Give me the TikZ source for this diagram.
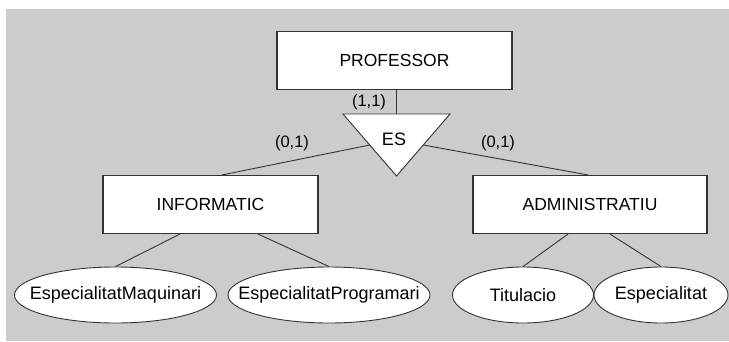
\documentclass[tikz,border=0pt]{standalone}
\usepackage{fontspec}
\setmainfont{Liberation Sans}
\usetikzlibrary{shapes.geometric,calc}
\definecolor{panel}{HTML}{CCCCCC}
\definecolor{ink}{HTML}{333333}
\newcommand{\labeltext}[1]{\makebox[0pt]{#1}}
\tikzset{
  entity/.style={draw=ink, line width=1.1pt, fill=white, minimum width=#1, minimum height=58pt, inner sep=0pt, font=\fontsize{17.5}{17.5}\selectfont},
  attrib/.style={draw=ink, line width=0.9pt, fill=white, ellipse, minimum width=#1, minimum height=56pt, inner sep=0pt, font=\fontsize{18}{18}\selectfont},
  link/.style={draw=ink, line width=0.9pt},
  card/.style={font=\fontsize{16.5}{16.5}\selectfont, inner sep=0pt},
}
\begin{document}
\begin{tikzpicture}[x=1pt,y=-1pt]
  \useasboundingbox (0,0) rectangle (729,341);
  \fill[panel] (6,9) rectangle (729,341);

  % entities
  \node[entity=235pt] (prof) at (394.5,60.5) {PROFESSOR};
  \node[entity=215pt] (inf) at (210.5,204.5) {INFORMATIC};
  \node[entity=234pt] (adm) at (590,204.5) {ADMINISTRATIU};

  % specialisation triangle
  \coordinate (tl) at (343,114);
  \coordinate (tr) at (450,114);
  \coordinate (tb) at (396.5,176);
  \coordinate (ttop) at (396.5,114);
  \coordinate (tleft) at ($(tl)!0.5!(tb)$);
  \coordinate (tright) at ($(tr)!0.5!(tb)$);
  \fill[white] (tl) -- (tr) -- (tb) -- cycle;
  \draw[ink, line width=0.9pt, line join=miter] (tl) -- (tr) -- (tb) -- cycle;
  \node[font=\fontsize{18}{18}\selectfont] (es) at (394,139) {ES};

  % attributes
  \node[attrib=202pt] (maq) at (115.5,295) {\labeltext{EspecialitatMaquinari}};
  \node[attrib=202pt] (prog) at (329,295) {\labeltext{EspecialitatProgramari}};
  \node[attrib=141pt] (tit) at (523,295) {\labeltext{Titulacio}};
  \node[attrib=134pt] (esp) at (661,295) {\labeltext{Especialitat}};

  % connectors
  \draw[link] (prof.south -| ttop) -- (ttop);
  \draw[link] (tleft) -- (inf.north -| 222,0);
  \draw[link] (tright) -- (adm.north -| 588,0);
  \draw[link] (inf.south -| 180,0) -- (maq.north);
  \draw[link] (inf.south -| 258,0) -- (prog.north);
  \draw[link] (adm.south -| 568,0) -- (tit.north);
  \draw[link] (adm.south -| 610,0) -- (esp.north);

  % cardinalities
  \node[card] (c11) at (369,102) {(1,1)};
  \node[card] (c01l) at (292,143) {(0,1)};
  \node[card] (c01r) at (498,143) {(0,1)};
\end{tikzpicture}
\end{document}
